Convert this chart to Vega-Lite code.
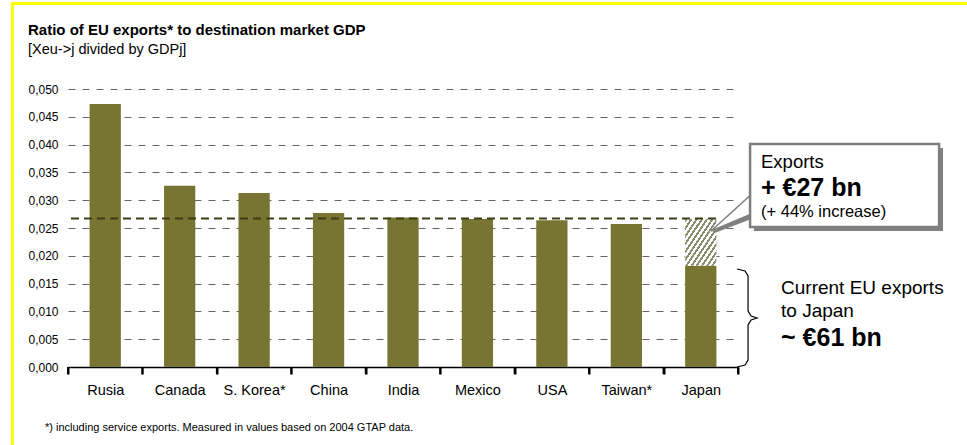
{
  "$schema": "https://vega.github.io/schema/vega-lite/v6.json",
  "width": 670,
  "height": 278,
  "autosize": {"type": "none"},
  "padding": {"left": 68, "top": 89, "right": 229, "bottom": 78},
  "background": "white",
  "config": {"font": "Liberation Sans", "view": {"stroke": null}},
  "datasets": {
    "bars": [
      {"country": "Rusia", "value": 0.0473},
      {"country": "Canada", "value": 0.0326},
      {"country": "S. Korea*", "value": 0.0313},
      {"country": "China", "value": 0.0277},
      {"country": "India", "value": 0.0269},
      {"country": "Mexico", "value": 0.0266},
      {"country": "USA", "value": 0.0264},
      {"country": "Taiwan*", "value": 0.0257},
      {"country": "Japan", "value": 0.0182, "target": 0.0266}
    ]
  },
  "resolve": {"scale": {"x": "independent"}},
  "layer": [
    {
      "data": {"name": "bars"},
      "mark": {"type": "bar", "width": {"band": 0.42}, "color": "#787532"},
      "encoding": {
        "x": {"field": "country", "type": "nominal", "sort": null, "title": null,
          "scale": {"paddingInner": 0, "paddingOuter": 0},
          "axis": {"orient": "bottom", "domainColor": "#000000", "domainWidth": 1.5, "tickColor": "#000000", "tickSize": 7, "tickWidth": 2, "tickBand": "extent", "labelAngle": 0, "labelFontSize": 14.5, "labelColor": "#000000", "labelPadding": 9, "grid": false}},
        "y": {"field": "value", "type": "quantitative", "title": null,
          "scale": {"domain": [0, 0.05], "nice": false},
          "axis": {"tickCount": 10,
            "labelExpr": "replace(format(datum.value, '.3f'), '.', ',')",
            "domain": false, "ticks": false, "grid": true, "gridDash": [7, 7], "gridColor": "#666666", "gridWidth": 1,
            "labelFontSize": 12, "labelColor": "#000000", "labelPadding": 10}}
      }
    },
    {
      "data": {"name": "bars"},
      "transform": [{"filter": "datum.target != null"}],
      "mark": {"type": "bar", "width": {"band": 0.42},
        "fill": {"gradient": "linear", "x1": 0, "y1": 0, "x2": 1, "y2": 1, "stops": [
          {"offset": 0, "color": "#8b8e6e"}, {"offset": 0.0375, "color": "#8b8e6e"}, {"offset": 0.0375, "color": "#ffffff"}, {"offset": 0.0833, "color": "#ffffff"},
          {"offset": 0.0833, "color": "#8b8e6e"}, {"offset": 0.1208, "color": "#8b8e6e"}, {"offset": 0.1208, "color": "#ffffff"}, {"offset": 0.1667, "color": "#ffffff"},
          {"offset": 0.1667, "color": "#8b8e6e"}, {"offset": 0.2042, "color": "#8b8e6e"}, {"offset": 0.2042, "color": "#ffffff"}, {"offset": 0.25, "color": "#ffffff"},
          {"offset": 0.25, "color": "#8b8e6e"}, {"offset": 0.2875, "color": "#8b8e6e"}, {"offset": 0.2875, "color": "#ffffff"}, {"offset": 0.3333, "color": "#ffffff"},
          {"offset": 0.3333, "color": "#8b8e6e"}, {"offset": 0.3708, "color": "#8b8e6e"}, {"offset": 0.3708, "color": "#ffffff"}, {"offset": 0.4167, "color": "#ffffff"},
          {"offset": 0.4167, "color": "#8b8e6e"}, {"offset": 0.4542, "color": "#8b8e6e"}, {"offset": 0.4542, "color": "#ffffff"}, {"offset": 0.5, "color": "#ffffff"},
          {"offset": 0.5, "color": "#8b8e6e"}, {"offset": 0.5375, "color": "#8b8e6e"}, {"offset": 0.5375, "color": "#ffffff"}, {"offset": 0.5833, "color": "#ffffff"},
          {"offset": 0.5833, "color": "#8b8e6e"}, {"offset": 0.6208, "color": "#8b8e6e"}, {"offset": 0.6208, "color": "#ffffff"}, {"offset": 0.6667, "color": "#ffffff"},
          {"offset": 0.6667, "color": "#8b8e6e"}, {"offset": 0.7042, "color": "#8b8e6e"}, {"offset": 0.7042, "color": "#ffffff"}, {"offset": 0.75, "color": "#ffffff"},
          {"offset": 0.75, "color": "#8b8e6e"}, {"offset": 0.7875, "color": "#8b8e6e"}, {"offset": 0.7875, "color": "#ffffff"}, {"offset": 0.8333, "color": "#ffffff"},
          {"offset": 0.8333, "color": "#8b8e6e"}, {"offset": 0.8708, "color": "#8b8e6e"}, {"offset": 0.8708, "color": "#ffffff"}, {"offset": 0.9167, "color": "#ffffff"},
          {"offset": 0.9167, "color": "#8b8e6e"}, {"offset": 0.9542, "color": "#8b8e6e"}, {"offset": 0.9542, "color": "#ffffff"}, {"offset": 1, "color": "#ffffff"}
        ]}},
      "encoding": {
        "x": {"field": "country", "type": "nominal", "title": null,
          "axis": {"labels": false, "ticks": false, "domain": false, "grid": false},
          "scale": {"domain": ["Rusia", "Canada", "S. Korea*", "China", "India", "Mexico", "USA", "Taiwan*", "Japan"], "paddingInner": 0, "paddingOuter": 0}},
        "y": {"field": "value", "type": "quantitative", "title": null},
        "y2": {"field": "target"}
      }
    },
    {
      "data": {"name": "bars"},
      "mark": {"type": "rule", "color": "#000000", "strokeWidth": 2},
      "encoding": {
        "x": {"field": "country", "type": "nominal", "sort": null, "title": null, "bandPosition": 0,
          "axis": {"labels": false, "ticks": false, "domain": false, "grid": false},
          "scale": {"paddingInner": 0, "paddingOuter": 0}},
        "y": {"datum": 0, "type": "quantitative", "title": null},
        "y2": {"datum": -0.0013}
      }
    },
    {
      "data": {"values": [{}]},
      "mark": {"type": "rule", "color": "#000000", "strokeWidth": 2},
      "encoding": {
        "x": {"datum": 9, "type": "quantitative", "title": null, "axis": {"labels": false, "ticks": false, "domain": false, "grid": false}, "scale": {"domain": [0, 9], "nice": false, "zero": false}},
        "y": {"datum": 0, "type": "quantitative", "title": null},
        "y2": {"datum": -0.0013}
      }
    },
    {
      "data": {"values": [{}]},
      "mark": {"type": "rule", "color": "#ffff00", "strokeWidth": 3},
      "encoding": {
        "x": {"datum": -0.766, "type": "quantitative", "title": null, "axis": {"labels": false, "ticks": false, "domain": false, "grid": false}, "scale": {"domain": [0, 9], "nice": false, "zero": false}},
        "x2": {"datum": 13},
        "y": {"datum": 0.06538, "type": "quantitative", "title": null}
      }
    },
    {
      "data": {"values": [{}]},
      "mark": {"type": "rule", "color": "#ffff00", "strokeWidth": 3},
      "encoding": {
        "x": {"datum": -0.7456, "type": "quantitative", "title": null, "axis": {"labels": false, "ticks": false, "domain": false, "grid": false}, "scale": {"domain": [0, 9], "nice": false, "zero": false}},
        "y": {"datum": 0.0656, "type": "quantitative", "title": null},
        "y2": {"datum": -0.0144}
      }
    },
    {
      "data": {"values": [{}]},
      "mark": {"type": "rule", "color": "#3d3d14", "strokeWidth": 2, "strokeDash": [8, 5]},
      "encoding": {
        "x": {"datum": 0.04, "type": "quantitative", "title": null, "axis": {"labels": false, "ticks": false, "domain": false, "grid": false}, "scale": {"domain": [0, 9], "nice": false, "zero": false}},
        "x2": {"datum": 8.708},
        "y": {"datum": 0.0267, "type": "quantitative", "title": null}
      }
    },
    {
      "data": {"values": [{}]},
      "mark": {"type": "rect", "fill": "#808080"},
      "encoding": {
        "x": {"datum": 9.215, "type": "quantitative", "title": null, "axis": {"labels": false, "ticks": false, "domain": false, "grid": false}, "scale": {"domain": [0, 9], "nice": false, "zero": false}},
        "x2": {"datum": 11.754},
        "y": {"datum": 0.03939, "type": "quantitative", "title": null},
        "y2": {"datum": 0.02446}
      }
    },
    {
      "data": {"values": [
        {"px": 8.651, "lo": 0.02392, "hi": 0.02392},
        {"px": 9.215, "lo": 0.0268, "hi": 0.03076}
      ]},
      "mark": {"type": "area", "fill": "#808080"},
      "encoding": {
        "x": {"field": "px", "type": "quantitative", "title": null, "axis": {"labels": false, "ticks": false, "domain": false, "grid": false}, "scale": {"domain": [0, 9], "nice": false, "zero": false}},
        "y": {"field": "hi", "type": "quantitative", "title": null},
        "y2": {"field": "lo"}
      }
    },
    {
      "data": {"values": [
        {"px": 8.638, "lo": 0.02446, "hi": 0.02446},
        {"px": 9.215, "lo": 0.0277, "hi": 0.03147}
      ]},
      "mark": {"type": "area", "fill": "#ffffff", "stroke": "#7f7f7f", "strokeWidth": 1.5},
      "encoding": {
        "x": {"field": "px", "type": "quantitative", "title": null, "axis": {"labels": false, "ticks": false, "domain": false, "grid": false}, "scale": {"domain": [0, 9], "nice": false, "zero": false}},
        "y": {"field": "hi", "type": "quantitative", "title": null},
        "y2": {"field": "lo"}
      }
    },
    {
      "data": {"values": [{}]},
      "mark": {"type": "rect", "fill": "#ffffff", "stroke": "#7f7f7f", "strokeWidth": 2.5},
      "encoding": {
        "x": {"datum": 9.162, "type": "quantitative", "title": null, "axis": {"labels": false, "ticks": false, "domain": false, "grid": false}, "scale": {"domain": [0, 9], "nice": false, "zero": false}},
        "x2": {"datum": 11.701},
        "y": {"datum": 0.04011, "type": "quantitative", "title": null},
        "y2": {"datum": 0.02518}
      }
    },
    {
      "data": {"values": [{}]},
      "mark": {"type": "text", "text": "Exports", "align": "left", "baseline": "middle", "fontSize": 18.5, "color": "#000000"},
      "encoding": {
        "x": {"datum": 9.309, "type": "quantitative", "title": null, "axis": {"labels": false, "ticks": false, "domain": false, "grid": false}, "scale": {"domain": [0, 9], "nice": false, "zero": false}},
        "y": {"datum": 0.03687, "type": "quantitative", "title": null}
      }
    },
    {
      "data": {"values": [{}]},
      "mark": {"type": "text", "text": "+ €27 bn", "align": "left", "baseline": "middle", "fontSize": 25, "fontWeight": "bold", "color": "#000000"},
      "encoding": {
        "x": {"datum": 9.309, "type": "quantitative", "title": null, "axis": {"labels": false, "ticks": false, "domain": false, "grid": false}, "scale": {"domain": [0, 9], "nice": false, "zero": false}},
        "y": {"datum": 0.03219, "type": "quantitative", "title": null}
      }
    },
    {
      "data": {"values": [{}]},
      "mark": {"type": "text", "text": "(+ 44% increase)", "align": "left", "baseline": "middle", "fontSize": 16.5, "color": "#000000"},
      "encoding": {
        "x": {"datum": 9.309, "type": "quantitative", "title": null, "axis": {"labels": false, "ticks": false, "domain": false, "grid": false}, "scale": {"domain": [0, 9], "nice": false, "zero": false}},
        "y": {"datum": 0.02788, "type": "quantitative", "title": null}
      }
    },
    {
      "data": {"values": [
        {"ord": 1, "bx": 8.987, "by": 0.01763},
        {"ord": 2, "bx": 9.095, "by": 0.01727},
        {"ord": 3, "bx": 9.135, "by": 0.01637},
        {"ord": 4, "bx": 9.135, "by": 0.01007},
        {"ord": 5, "bx": 9.175, "by": 0.00917},
        {"ord": 6, "bx": 9.256, "by": 0.00881},
        {"ord": 7, "bx": 9.175, "by": 0.00845},
        {"ord": 8, "bx": 9.135, "by": 0.00755},
        {"ord": 9, "bx": 9.135, "by": 0.00126},
        {"ord": 10, "bx": 9.095, "by": 0.00036},
        {"ord": 11, "bx": 8.987, "by": 0.0}
      ]},
      "mark": {"type": "line", "color": "#000000", "strokeWidth": 1.2, "interpolate": "linear"},
      "encoding": {
        "x": {"field": "bx", "type": "quantitative", "title": null, "axis": {"labels": false, "ticks": false, "domain": false, "grid": false}, "scale": {"domain": [0, 9], "nice": false, "zero": false}},
        "y": {"field": "by", "type": "quantitative", "title": null},
        "order": {"field": "ord", "type": "quantitative"}
      }
    },
    {
      "data": {"values": [{}]},
      "mark": {"type": "text", "text": "Current EU exports", "align": "left", "baseline": "middle", "fontSize": 19, "color": "#000000"},
      "encoding": {
        "x": {"datum": 9.578, "type": "quantitative", "title": null, "axis": {"labels": false, "ticks": false, "domain": false, "grid": false}, "scale": {"domain": [0, 9], "nice": false, "zero": false}},
        "y": {"datum": 0.01421, "type": "quantitative", "title": null}
      }
    },
    {
      "data": {"values": [{}]},
      "mark": {"type": "text", "text": "to Japan", "align": "left", "baseline": "middle", "fontSize": 19, "color": "#000000"},
      "encoding": {
        "x": {"datum": 9.578, "type": "quantitative", "title": null, "axis": {"labels": false, "ticks": false, "domain": false, "grid": false}, "scale": {"domain": [0, 9], "nice": false, "zero": false}},
        "y": {"datum": 0.01007, "type": "quantitative", "title": null}
      }
    },
    {
      "data": {"values": [{}]},
      "mark": {"type": "text", "text": "~ €61 bn", "align": "left", "baseline": "middle", "fontSize": 25, "fontWeight": "bold", "color": "#000000"},
      "encoding": {
        "x": {"datum": 9.578, "type": "quantitative", "title": null, "axis": {"labels": false, "ticks": false, "domain": false, "grid": false}, "scale": {"domain": [0, 9], "nice": false, "zero": false}},
        "y": {"datum": 0.00522, "type": "quantitative", "title": null}
      }
    },
    {
      "data": {"values": [{}]},
      "mark": {"type": "text", "text": "Ratio of EU exports* to destination market GDP", "align": "left", "baseline": "alphabetic", "fontSize": 15, "fontWeight": "bold", "color": "#000000"},
      "encoding": {
        "x": {"datum": -0.537, "type": "quantitative", "title": null, "axis": {"labels": false, "ticks": false, "domain": false, "grid": false}, "scale": {"domain": [0, 9], "nice": false, "zero": false}},
        "y": {"datum": 0.0598, "type": "quantitative", "title": null}
      }
    },
    {
      "data": {"values": [{}]},
      "mark": {"type": "text", "text": "[Xeu->j divided by GDPj]", "align": "left", "baseline": "alphabetic", "fontSize": 14.5, "color": "#000000"},
      "encoding": {
        "x": {"datum": -0.537, "type": "quantitative", "title": null, "axis": {"labels": false, "ticks": false, "domain": false, "grid": false}, "scale": {"domain": [0, 9], "nice": false, "zero": false}},
        "y": {"datum": 0.05624, "type": "quantitative", "title": null}
      }
    },
    {
      "data": {"values": [{}]},
      "mark": {"type": "text", "text": "*) including service exports. Measured in values based on 2004 GTAP data.", "align": "left", "baseline": "middle", "fontSize": 11, "color": "#000000"},
      "encoding": {
        "x": {"datum": -0.309, "type": "quantitative", "title": null, "axis": {"labels": false, "ticks": false, "domain": false, "grid": false}, "scale": {"domain": [0, 9], "nice": false, "zero": false}},
        "y": {"datum": -0.01106, "type": "quantitative", "title": null}
      }
    }
  ]
}
